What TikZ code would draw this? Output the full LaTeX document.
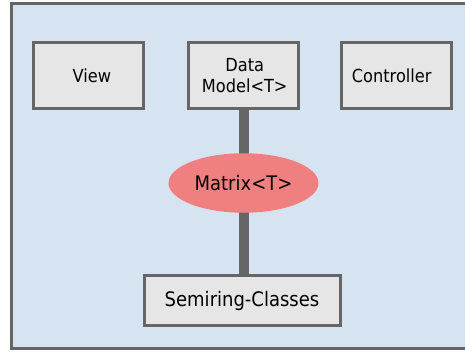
\documentclass[tikz,border=0pt]{standalone}
\usepackage{fontspec}
\setmainfont{DejaVu Sans}[FakeStretch=0.9]
\usetikzlibrary{shapes.geometric}
\definecolor{bgblue}{HTML}{D6E4F2}
\definecolor{boxgray}{HTML}{E6E6E6}
\definecolor{edgegray}{HTML}{666666}
\definecolor{salmon}{HTML}{F08080}
\tikzset{
  box/.style={draw=edgegray, line width=3pt, fill=boxgray, minimum width=110pt, minimum height=65.6pt, inner sep=0pt, align=center, font=\fontsize{18}{21}\selectfont},
  wbox/.style={draw=edgegray, line width=3pt, fill=boxgray, minimum width=196pt, minimum height=50pt, inner sep=0pt, font=\fontsize{20}{24}\selectfont},
  ell/.style={ellipse, fill=salmon, minimum width=150pt, minimum height=59.5pt, inner sep=0pt, font=\fontsize{20}{24}\selectfont},
  conn/.style={draw=edgegray, line width=10pt}
}
\begin{document}
\begin{tikzpicture}[x=1pt,y=-1pt]
\useasboundingbox (0,0) rectangle (465,351);
\fill[bgblue] (11,3) rectangle (480,348.5);
\draw[edgegray, line width=3pt] (480,3) -- (11,3) -- (11,348.5) -- (480,348.5);
\node[box] (view) at (88.3,75.5) {\hspace*{7pt}View};
\node[box] (model) at (243.7,75.5) {\hspace*{2pt}Data\\\hspace*{2pt}Model<T>};
\node[box] (ctrl) at (396.7,75.5) {Controller\hspace*{10pt}};
\node[wbox] (semi) at (242,300.7) {Semiring-Classes};
\draw[conn] (model.south) -- (semi.north -| model.south);
\node[box] at (243.7,75.5) {\hspace*{2pt}Data\\\hspace*{2pt}Model<T>};
\node[wbox] at (242,300.7) {Semiring-Classes};
\node[ell] (matrix) at (243.5,183) {Matrix<T>};
\end{tikzpicture}
\end{document}
